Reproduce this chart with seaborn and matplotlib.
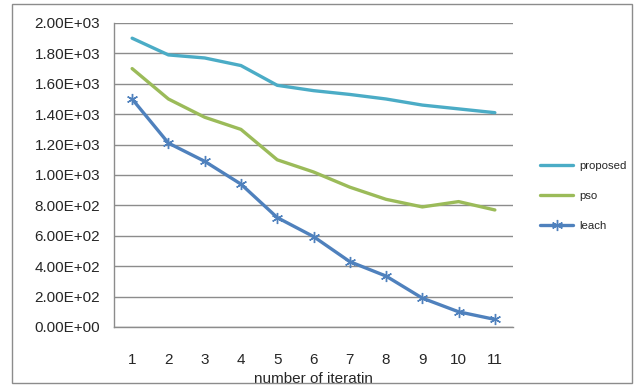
import matplotlib
matplotlib.use("Agg")
import matplotlib.pyplot as plt
import seaborn as sns
import pandas as pd
from matplotlib.patches import Rectangle

iterations = [1, 2, 3, 4, 5, 6, 7, 8, 9, 10, 11]
proposed = [1900, 1790, 1770, 1720, 1590, 1555, 1530, 1500, 1460, 1435, 1410]
pso = [1700, 1500, 1380, 1300, 1100, 1020, 920, 840, 790, 825, 770]
leach = [1500, 1210, 1090, 940, 720, 595, 430, 335, 190, 100, 50]
series_names = ["proposed", "pso", "leach"]
y_ticks = [0, 200, 400, 600, 800, 1000, 1200, 1400, 1600, 1800, 2000]

sns.set_style("white")
plt.rcParams['font.family'] = ['Liberation Sans', 'DejaVu Sans']

df = pd.DataFrame({
    "iteration": iterations * 3,
    "value": proposed + pso + leach,
    "series": sum([[n] * len(iterations) for n in series_names], []),
})

fig = plt.figure(figsize=(6.37, 3.89), dpi=100)
ax = fig.add_axes([114/637, 1-327/389, (513-114)/637, (327-23)/389])

colors = {"proposed": "#4BACC6", "pso": "#9BBB59", "leach": "#4F81BD"}
markers = {"proposed": "", "pso": "", "leach": (6, 2, 0)}
for name in series_names:
    sub = df[df["series"] == name]
    sns.lineplot(data=sub, x="iteration", y="value", ax=ax, color=colors[name],
                 linewidth=2.4, marker=markers[name] if markers[name] else None,
                 markersize=8, markeredgewidth=1.0, markeredgecolor=colors[name],
                 label=name, legend=False)

ax.set_xlim(0.5, 11.5)
ax.set_ylim(0, 2000)
ax.set_yticks(y_ticks)
ax.set_yticklabels([f"{v:.2E}" for v in y_ticks], fontsize=11)
ax.yaxis.grid(True, color="#8c8c8c", linewidth=1.0)
ax.set_axisbelow(True)

ax.set_xticks(iterations)
ax.set_xticklabels([str(i) for i in iterations], fontsize=11)
ax.set_xticks([i + 0.5 for i in [0] + iterations], minor=True)
ax.tick_params(axis="x", which="major", length=0, pad=19)
ax.tick_params(axis="x", which="minor", length=5, color="#8c8c8c", direction="out")
ax.tick_params(axis="y", which="major", length=5, color="#8c8c8c", direction="out", pad=5)
ax.set_xlabel("number of iteratin", fontsize=11, labelpad=3)
ax.set_ylabel("")

for s in ["top", "right"]:
    ax.spines[s].set_visible(False)
for s in ["left", "bottom"]:
    ax.spines[s].set_color("#8c8c8c")
    ax.spines[s].set_linewidth(1.0)

handles, labels = ax.get_legend_handles_labels()
fig.legend(handles, labels, loc="center left", bbox_to_anchor=(530/637, 1-196/389),
           frameon=False, fontsize=8.2, handlelength=2.9, labelspacing=1.75,
           handletextpad=0.5)

fig.patches.append(Rectangle((12/637, 1-383/389), (632-12)/637, (383-4)/389,
                             transform=fig.transFigure, fill=False,
                             edgecolor="#8c8c8c", linewidth=1.0))

fig.savefig("out.png", dpi=100)
